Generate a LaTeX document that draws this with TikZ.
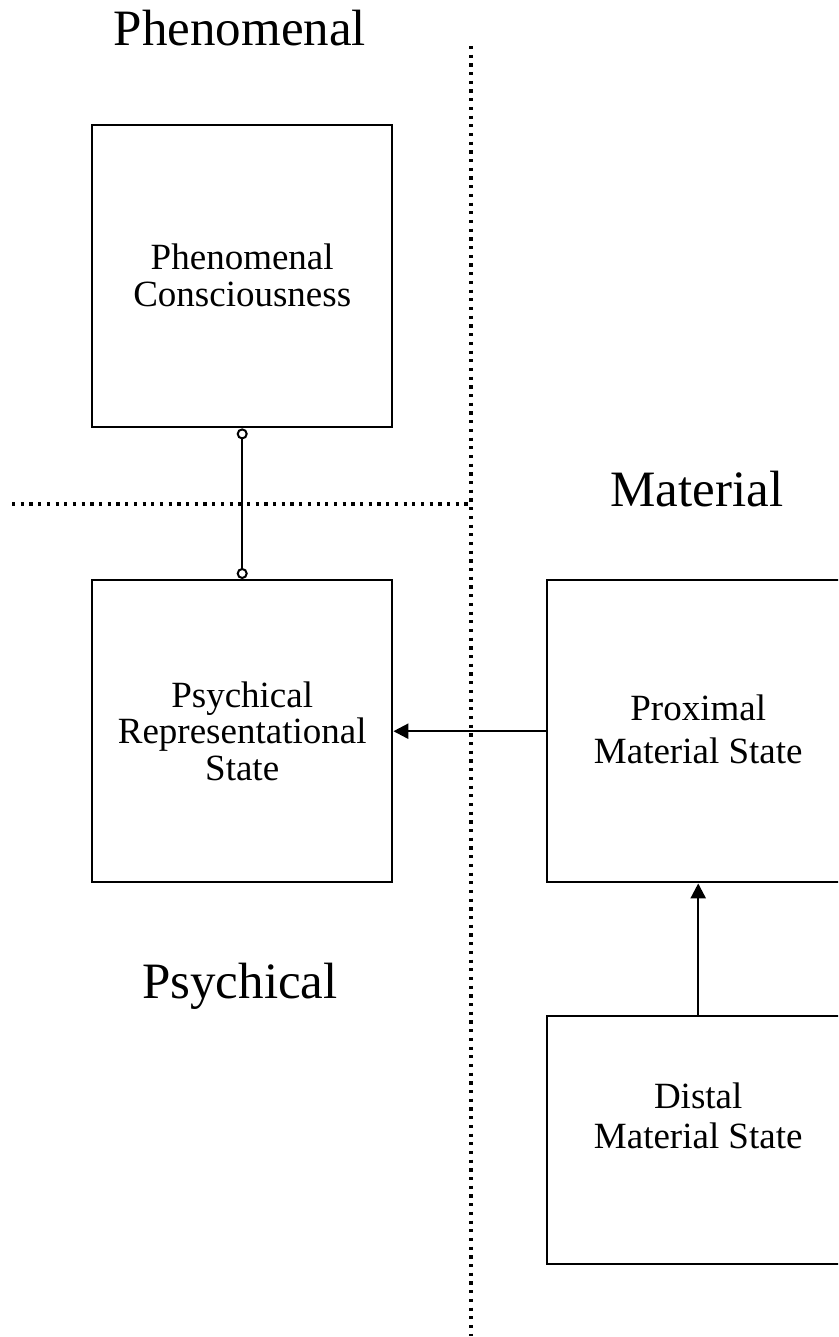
\documentclass[tikz,border=0pt]{standalone}
\usepackage{fontspec}
\setmainfont{Liberation Serif}
\usetikzlibrary{arrows.meta}
\begin{document}
\begin{tikzpicture}[x=1pt,y=-1pt,
  box/.style={draw,line width=2.4pt,inner sep=0pt,anchor=north west,align=center},
  btext/.style={align=center,inner sep=0pt,font=\fontsize{37}{36.5}\selectfont},
  big/.style={font=\fontsize{51}{55}\selectfont,inner sep=0pt,anchor=base},
  sep/.style={line width=3.2pt,dash pattern=on 3.2pt off 5.5pt},
  conn/.style={line width=2.4pt},
  ar/.style={conn,-{Triangle[length=15pt,width=15pt]}},
  cc/.style={conn,{Circle[open,length=11pt,width=11pt,line width=2pt]}-{Circle[open,length=11pt,width=11pt,line width=2pt]}}]
\useasboundingbox (0,0) rectangle (838,1337);
\fill[white] (0,0) rectangle (838,1337);
\clip (0,0) rectangle (838,1337);
% separators
\coordinate (vtop) at (471,46);
\coordinate (vbot) at (471,1336);
\coordinate (hl) at (12,504);
\coordinate (hr) at (471,504);
\draw[sep] (vtop) -- (vbot);
\draw[sep] (hl) -- (hr);
% region labels
\node[big] (lphen) at (240,46) {Phenomenal};
\node[big] (lmat) at (697,506) {Material};
\node[big] (lpsy) at (240,998) {Psychical};
% boxes
\node[box,minimum width=300pt,minimum height=302pt] (pc) at (91,124) {};
\node[box,minimum width=300pt,minimum height=302pt] (prs) at (91,579) {};
\node[box,minimum width=302pt,minimum height=302pt] (pms) at (546,579) {};
\node[box,minimum width=302pt,minimum height=248pt] (dms) at (546,1015) {};
% box texts
\node[btext] (tpc) at ([yshift=1pt]pc.center) {Phenomenal\\Consciousness};
\node[btext] (tprs) at (prs.center) {Psychical\\Representational\\State};
\node[btext,font=\fontsize{37}{43}\selectfont] (tpms) at ([yshift=2pt]pms.center) {Proximal\hspace{6pt}\\Material State};
\node[btext,font=\fontsize{37}{40}\selectfont] (tdms) at ([yshift=24pt]dms.center) {Distal\\Material State};
% connectors
\draw[cc] (pc.south) -- (prs.north);
\draw[ar] (pms.west) -- (prs.east);
\draw[ar] (dms.north) -- (pms.south);
\end{tikzpicture}
\end{document}
